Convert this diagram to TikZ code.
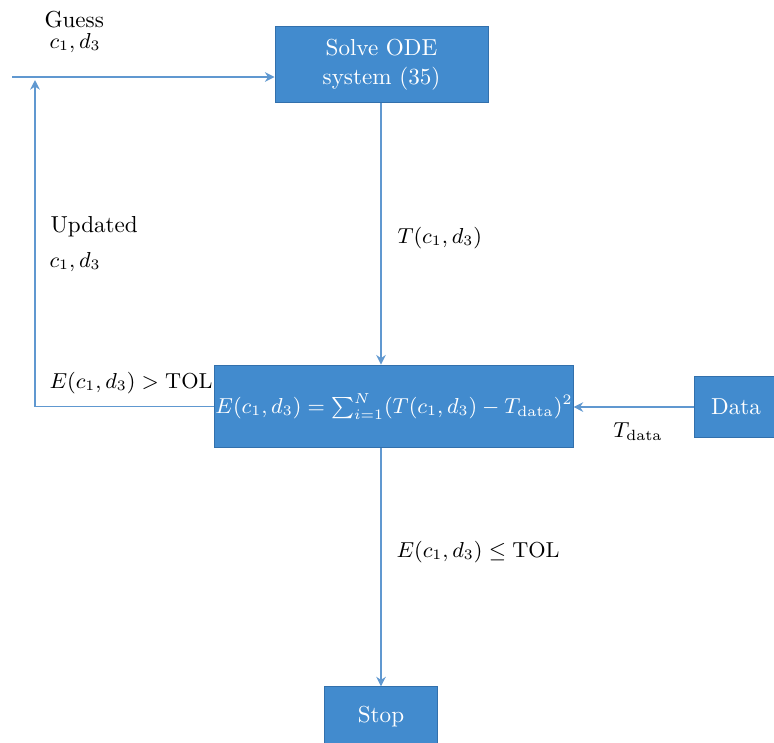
\documentclass[tikz,border=0pt]{standalone}
\usepackage{amsmath}
\usepackage{amssymb}
\usetikzlibrary{arrows.meta}
\definecolor{boxblue}{RGB}{66,139,206}
\definecolor{boxedge}{RGB}{50,112,172}
\definecolor{flowline}{RGB}{96,152,208}

\begin{document}
\begin{tikzpicture}
        [
          x=0.0146cm, y=-0.0146cm,
          block/.style={draw=boxedge, fill=boxblue, text=white, align=center, inner sep=0pt,
                        font=\fontsize{9.6}{12}\selectfont},
          flow/.style={draw=flowline, line width=0.7pt, -{Stealth[length=4pt,width=4pt]}},
          every node/.style={align=center, font=\fontsize{8.8}{11}\selectfont}
        ]
        \useasboundingbox (0,0) rectangle (774,742);

        % boxes
        \node[block, minimum width=3.11cm, minimum height=1.1cm] (solve) at (381.5,64.5) {Solve ODE\\system (35)};
        \node[block, minimum width=5.23cm, minimum height=1.21cm, font=\fontsize{8.8}{11}\selectfont] (error) at (394,406.5)
          {$E(c_1,d_3)=\sum_{i=1}^{N}(T(c_1,d_3)-T_{\text{data}})^2$};
        \node[block, minimum width=1.2cm, minimum height=0.88cm] (data) at (736,407) {Data};
        \node[block, minimum width=1.64cm, minimum height=0.88cm] (stop) at (381,717) {Stop};

        % free ends of the loop
        \coordinate (start) at (12,77);
        \coordinate (corner) at (35,406.5);
        \coordinate (back) at (35,80);

        % connectors
        \draw[flow] (start) -- (start -| solve.west);
        \draw[flow] (solve.south -| 381,0) -- (381,0 |- error.north);
        \draw[flow] (381,0 |- error.south) -- (stop.north);
        \draw[flow] (data.west) -- (data.west -| error.east);
        \draw[flow] (error.west) -- (corner) -- (back);

        % labels
        \node[anchor=west, font=\fontsize{9.6}{12}\selectfont] (guess) at (36,20) {Guess};
        \node[anchor=west] (guessvar) at (41,43) {$c_1, d_3$};
        \node[anchor=west, font=\fontsize{9.6}{12}\selectfont] (updated) at (42,227) {Updated};
        \node[anchor=west] (updatedvar) at (41,262) {$c_1, d_3$};
        \node[anchor=west] (notdone) at (41,383) {$E(c_1,d_3) > \mathrm{TOL}$};
        \node[anchor=west] (solution) at (389,238) {$T(c_1,d_3)$};
        \node[anchor=west] (done) at (388,552) {$E(c_1,d_3) \le \mathrm{TOL}$};
        \node (tdata) at (638,432) {$T_{\text{data}}$};
\end{tikzpicture}
\end{document}
